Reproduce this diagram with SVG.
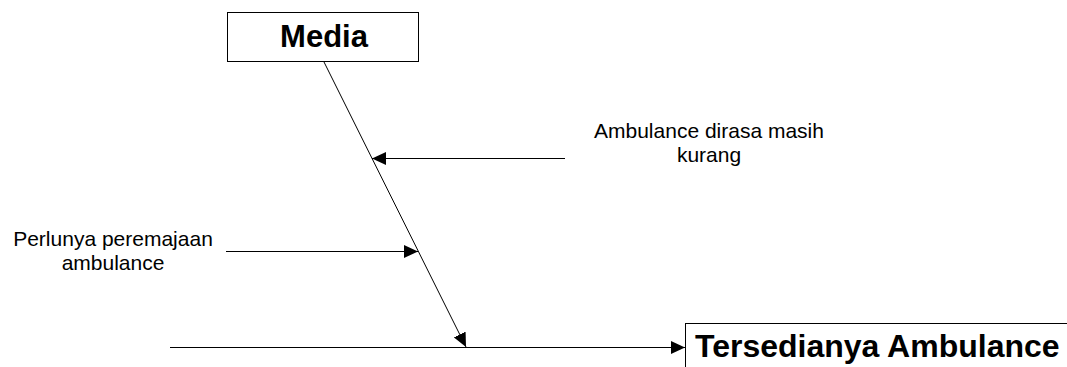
<svg xmlns="http://www.w3.org/2000/svg" width="1067" height="367" viewBox="0 0 1067 367">
<style>
.box{fill:#fff;stroke:#000;stroke-width:1}
.ln{stroke:#000;stroke-width:1;fill:none}
.big{font-family:"Liberation Sans",Arial,sans-serif;font-weight:bold;fill:#000}
.lbl{font-family:"Liberation Sans",Arial,sans-serif;font-size:21px;fill:#000}
</style>
<defs>
<marker id="ah" viewBox="0 0 14 13" refX="14" refY="6.5" markerWidth="14" markerHeight="13" markerUnits="userSpaceOnUse" orient="auto">
<path d="M0,0 L14,6.5 L0,13 Z" fill="#000"/>
</marker>
</defs>
<rect width="1067" height="367" fill="#fff"/>
<g id="node-media">
<rect class="box" x="227.5" y="12.5" width="191" height="49"/>
<text class="big" x="324" y="47" text-anchor="middle" font-size="31">Media</text>
</g>
<g id="node-tersedianya">
<rect class="box" x="685.5" y="323.5" width="400" height="60"/>
<text class="big" x="695" y="357" font-size="32">Tersedianya Ambulance</text>
</g>
<g id="label-ambulance-dirasa">
<text class="lbl" x="709" y="138" text-anchor="middle">Ambulance dirasa masih</text>
<text class="lbl" x="709" y="162" text-anchor="middle">kurang</text>
</g>
<g id="label-perlunya">
<text class="lbl" x="113" y="246" text-anchor="middle">Perlunya peremajaan</text>
<text class="lbl" x="113" y="270" text-anchor="middle">ambulance</text>
</g>
<g id="connectors">
<line class="ln" x1="324" y1="62" x2="466" y2="347" marker-end="url(#ah)"/>
<line class="ln" x1="170" y1="347.5" x2="685" y2="347.5" marker-end="url(#ah)"/>
<line class="ln" x1="565" y1="158.5" x2="372" y2="158.5" marker-end="url(#ah)"/>
<line class="ln" x1="226" y1="251.5" x2="418" y2="251.5" marker-end="url(#ah)"/>
</g>
</svg>
